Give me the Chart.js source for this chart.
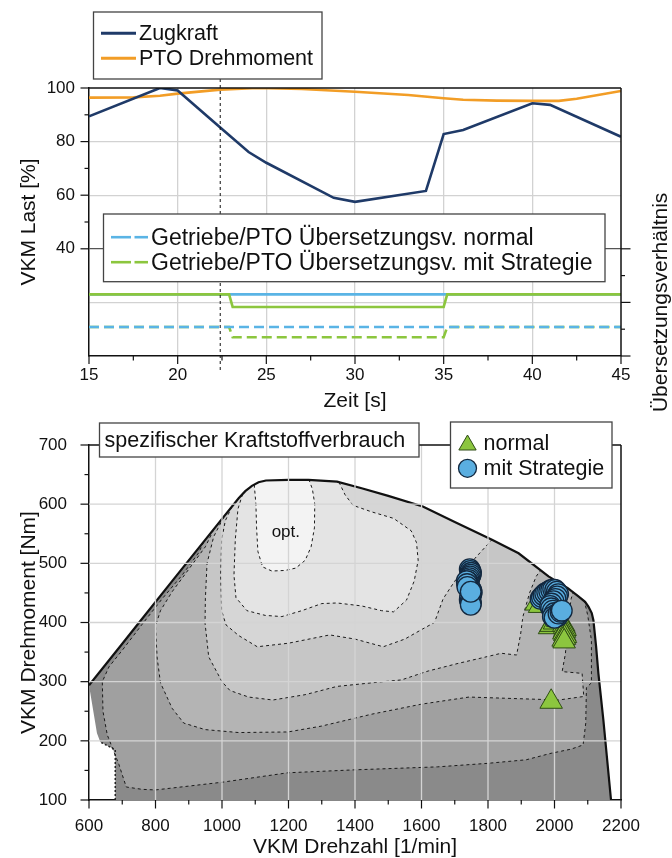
<!DOCTYPE html>
<html>
<head>
<meta charset="utf-8">
<script src="https://cdn.jsdelivr.net/npm/chart.js@4/dist/chart.umd.min.js"></script>
<style>
  html, body { margin: 0; padding: 0; background: #fff; }
  #wrap { position: relative; width: 672px; height: 858px; }
  canvas { position: absolute; left: 0; }
  #zeitChart { top: 0; }
  #kennfeldChart { top: 415px; }
</style>
</head>
<body>
<div id="wrap">
  <canvas id="zeitChart" width="672" height="415"></canvas>
  <canvas id="kennfeldChart" width="672" height="443"></canvas>
</div>
<script>
// --- Daten oben: Lastverlauf über der Zeit ---
const zugkraftZeit = [15, 19, 20, 22.4, 24, 25, 28.8, 30, 34, 35, 36.1, 40, 41, 45];
const zugkraftLast = [89.4, 100, 99.1, 85.3, 76.1, 72.1, 59, 57.5, 61.6, 82.8, 84.3, 94.3, 93.7, 81.8];
const ptoZeit = [15, 17.5, 19, 20, 22.4, 24.5, 27, 30, 33, 35, 36.1, 38, 40, 41.5, 42.5, 45];
const ptoLast = [96.4, 96.5, 97.1, 97.9, 99.4, 100, 99.6, 98.6, 97.4, 96.2, 95.6, 95.3, 95.2, 95.2, 96.0, 98.9];

// Übersetzungsverhältnisse (in Einheiten der linken Achse aufgetragen)
const uebZeit = [15, 22.9, 23.1, 35, 35.2, 45];
const getriebeNormal = [23, 23, 23, 23, 23, 23];
const getriebeStrategie = [23, 23, 18.3, 18.3, 23, 23];
const ptoUebNormal = [10.8, 10.8, 10.8, 10.8, 10.8, 10.8];
const ptoUebStrategie = [10.8, 10.8, 7, 7, 10.8, 10.8];
const markZeit = 22.4;

// --- Daten unten: Verbrauchskennfeld ---
const kennfeldVolllast = [[600,294],[700,364],[755,403],[850,470],[950,540],[1050,610],[1070,622],[1090,631],[1110,637],[1132,640],[1200,641],[1260,641],[1346,638],[1420,627],[1500,614],[1604,596],[1700,570],[1812,540],[1892,517],[1982,478],[2040,458],[2072,444],[2092,435],[2102,427],[2112,416],[2117,404],[2125,360],[2132,314],[2147,235],[2170,100]];
const kennfeldSockel = [[2170,100],[679,100],[679,185],[634,198],[624,213],[600,294]];
const kennfeldKerbe = [[679,100],[679,185],[634,198]];

const linie6 = [[945,536],[930,518],[880,480],[820,440],[760,397],[700,353],[660,325],[640,300],[642,250],[655,210],[690,160],[712,122],[760,118],[800,117],[1000,130],[1198,146],[1400,151],[1648,156],[1800,162],[1915,168],[1990,179],[2050,186],[2086,193],[2094,230],[2096,290],[2111,298],[2111,370],[2100,412],[2090,436]];
const linie5 = [[975,557],[950,528],[900,490],[850,452],[815,420],[800,394],[805,340],[815,298],[850,255],[885,230],[949,219],[1050,214],[1198,215],[1300,225],[1450,245],[1600,262],[1743,274],[1850,272],[1960,270],[2013,269],[2088,275],[2083,314],[2023,317],[2033,348],[2040,400],[2050,440],[2056,451]];
const linie4 = [[1005,578],[975,545],[955,500],[950,440],[949,399],[960,342],[1000,300],[1024,285],[1080,274],[1153,269],[1250,278],[1346,292],[1450,298],[1540,303],[1620,318],[1711,331],[1780,340],[1840,348],[1886,345],[1898,380],[1905,410],[1925,450],[1945,478],[1958,488]];
const linie3 = [[1030,596],[1010,572],[999,540],[996,480],[999,420],[1012,396],[1050,378],[1106,359],[1200,365],[1324,379],[1400,372],[1485,359],[1550,372],[1600,388],[1639,400],[1665,440],[1700,470],[1760,508],[1812,540]];
const linie2 = [[1062,617],[1048,592],[1040,540],[1036,480],[1042,442],[1075,420],[1130,412],[1180,410],[1240,420],[1300,432],[1346,433],[1420,428],[1480,420],[1516,418],[1555,438],[1578,470],[1590,505],[1585,535],[1569,555],[1516,576],[1450,587],[1394,598],[1370,616],[1352,637]];
const linieOpt = [[1097,633],[1102,600],[1104,560],[1108,520],[1122,494],[1150,487],[1190,488],[1222,492],[1250,505],[1268,528],[1278,560],[1279,600],[1272,625],[1262,641]];

// Betriebspunkte
const normalDrehzahl = [1945, 1955, 1985, 1990, 2000, 2010, 2028, 2030, 2032, 2030, 2028, 2031, 2033, 2030, 2026, 2029, 1990];
const normalMoment   = [432, 428, 392, 396, 400, 404, 396, 392, 389, 386, 383, 380, 377, 374, 371, 368, 266];
const strategieDrehzahl = [1745, 1747, 1749, 1748, 1746, 1744, 1742, 1740, 1739, 1741, 1744, 1747, 1750, 1751, 1750, 1748, 1746, 1745, 1747, 1749, 1748, 1736, 1737, 1738, 1748,
                           1958, 1962, 1967, 1972, 1978, 1984, 1990, 1996, 2002, 2007, 2011, 2008, 2003, 1997, 1991, 1987, 1990, 1995, 2000, 2005, 2010, 1995, 2000, 2012, 2018, 2022];
const strategieMoment   = [490, 487, 484, 481, 478, 475, 472, 469, 466, 463, 460, 457, 454, 451, 448, 445, 442, 439, 436, 433, 430, 470, 465, 460, 452,
                           440, 443, 446, 449, 451, 453, 455, 456, 455, 452, 448, 444, 440, 436, 432, 428, 424, 420, 416, 413, 411, 410, 408, 415, 418, 420];

// Graustufen von außen nach innen
const kennfeldGrau = ['#8a8a8a', '#a0a0a0', '#b4b4b4', '#c6c6c6', '#d6d6d6', '#e4e4e4', '#f3f3f3'];

const FONT = '"Liberation Sans", Arial, Helvetica, sans-serif';
Chart.defaults.font.family = FONT;
Chart.defaults.color = '#111';

function punkte(xs, ys) { return xs.map((x, i) => ({ x, y: ys[i] })); }
function paare(arr) { return arr.map(([x, y]) => ({ x, y })); }
function flaeche(linie) {
    const xl = linie[0][0], xr = linie[linie.length - 1][0];
    const rueck = kennfeldVolllast.filter(p => p[0] > xl && p[0] < xr).reverse();
    return paare(linie.concat(rueck));
}
function strecke(ctx, x1, y1, x2, y2) {
    ctx.beginPath(); ctx.moveTo(x1, y1); ctx.lineTo(x2, y2); ctx.stroke();
}
function legendenBox(ctx, x, y, w, h) {
    ctx.fillStyle = '#fff';
    ctx.fillRect(x, y, w, h);
    ctx.strokeStyle = '#444';
    ctx.lineWidth = 1.3;
    ctx.strokeRect(x, y, w, h);
}

// ================= oberes Diagramm =================
const zeitDeko = {
    id: 'zeitDeko',
    afterDraw(chart) {
        const { ctx, chartArea: a, scales: { x, y } } = chart;
        ctx.save();
        ctx.strokeStyle = '#111';
        ctx.lineWidth = 1.5;
        strecke(ctx, a.left, a.top, a.right, a.top);
        strecke(ctx, a.right, a.top, a.right, a.bottom);

        ctx.lineWidth = 1.2;
        for (let v = 15; v <= 45; v += 2.5) {
            const px = x.getPixelForValue(v);
            strecke(ctx, px, a.bottom, px, a.bottom + (v % 5 === 0 ? 8 : 4.5));
        }
        for (let v = 40; v <= 100; v += 10) {
            const py = y.getPixelForValue(v);
            strecke(ctx, a.left - (v % 20 === 0 ? 8.5 : 4.5), py, a.left, py);
        }
        // rechte Achse (Übersetzungsverhältnis)
        for (let v = 0; v <= 40; v += 10) {
            const py = y.getPixelForValue(v);
            strecke(ctx, a.right, py, a.right + (v % 20 === 0 ? 9.5 : 4), py);
        }

        // Markierung
        ctx.setLineDash([3, 3]);
        ctx.lineWidth = 1;
        const mx = x.getPixelForValue(markZeit);
        strecke(ctx, mx, 79, mx, a.bottom + 15);
        ctx.setLineDash([]);

        // Legende Last
        legendenBox(ctx, 93.5, 12, 228.5, 67);
        ctx.font = '21.5px ' + FONT;
        ctx.textBaseline = 'middle';
        ctx.lineWidth = 3;
        [['Zugkraft', '#1f3a68', 33.3], ['PTO Drehmoment', '#f29d26', 58.3]].forEach(([t, c, ly]) => {
            ctx.strokeStyle = c;
            strecke(ctx, 101, ly, 136, ly);
            ctx.fillStyle = '#111';
            ctx.fillText(t, 139, ly + 1);
        });

        // Legende Übersetzung
        legendenBox(ctx, 103.5, 214, 501.5, 67.7);
        ctx.font = '23px ' + FONT;
        ctx.lineWidth = 2.6;
        [['Getriebe/PTO Übersetzungsv. normal', '#5ab4e5', 237.2], ['Getriebe/PTO Übersetzungsv. mit Strategie', '#8cc63e', 262.2]].forEach(([t, c, ly]) => {
            ctx.strokeStyle = c;
            strecke(ctx, 111, ly, 131, ly);
            strecke(ctx, 134.5, ly, 148, ly);
            ctx.fillStyle = '#111';
            ctx.fillText(t, 151, ly + 1);
        });

        // rechter Achsentitel
        ctx.translate(661, y.getPixelForValue(20));
        ctx.rotate(-Math.PI / 2);
        ctx.textAlign = 'center';
        ctx.font = '21px ' + FONT;
        ctx.fillStyle = '#111';
        ctx.fillText('Übersetzungsverhältnis', 0, 0);
        ctx.restore();
    }
};

new Chart(document.getElementById('zeitChart'), {
    type: 'line',
    data: {
        datasets: [
            { data: punkte(uebZeit, getriebeNormal), borderColor: '#5ab4e5', order: 6 },
            { data: punkte(uebZeit, getriebeStrategie), borderColor: '#8cc63e', order: 5 },
            { data: punkte(uebZeit, ptoUebStrategie), borderColor: '#8cc63e', borderDash: [10, 5], order: 4 },
            { data: punkte(uebZeit, ptoUebNormal), borderColor: '#5ab4e5', borderDash: [10, 5], order: 3 },
            { data: punkte(ptoZeit, ptoLast), borderColor: '#f29d26', order: 2 },
            { data: punkte(zugkraftZeit, zugkraftLast), borderColor: '#1f3a68', order: 1 }
        ]
    },
    options: {
        responsive: false,
        animation: false,
        devicePixelRatio: 1,
        layout: { padding: { left: 0, right: 51, top: 88, bottom: 0 } },
        plugins: { legend: { display: false }, tooltip: { enabled: false } },
        elements: { point: { radius: 0 }, line: { tension: 0, borderWidth: 2.6, fill: false } },
        scales: {
            x: {
                type: 'linear', min: 15, max: 45,
                ticks: { stepSize: 5, padding: 9, autoSkip: false, maxRotation: 0, font: { size: 17 }, color: '#111', callback: v => String(v) },
                grid: {
                    drawTicks: false, lineWidth: 1.3,
                    color: c => (c.tick && c.tick.value > 15 && c.tick.value < 45) ? '#d2d2d2' : 'rgba(0,0,0,0)'
                },
                border: { color: '#111', width: 1.5 },
                title: { display: true, text: 'Zeit [s]', color: '#111', font: { size: 21, lineHeight: 1 }, padding: { top: 0, bottom: 3 } },
                afterFit: s => { s.height = 59; }
            },
            y: {
                min: 0, max: 100,
                ticks: { stepSize: 20, padding: 14, font: { size: 17 }, color: '#111', callback: v => (v >= 40 ? String(v) : '') },
                grid: {
                    drawTicks: false, lineWidth: 1.3,
                    color: c => {
                        const v = c.tick ? c.tick.value : 0;
                        if (v === 40) return '#555';
                        if (v === 20 || v === 60 || v === 80) return '#d2d2d2';
                        return 'rgba(0,0,0,0)';
                    }
                },
                border: { color: '#111', width: 1.5 },
                title: { display: true, text: 'VKM Last [%]', color: '#111', font: { size: 21, lineHeight: 1 }, padding: { top: 18.5, bottom: 0 } },
                afterFit: s => { s.width = 89; }
            }
        }
    },
    plugins: [zeitDeko]
});

// ================= unteres Diagramm =================
const flaechen = [
    paare(kennfeldVolllast.concat(kennfeldSockel)),
    flaeche(linie6), flaeche(linie5), flaeche(linie4), flaeche(linie3), flaeche(linie2), flaeche(linieOpt)
];
const isolinien = [linie6, linie5, linie4, linie3, linie2, linieOpt];

const datasets = [];
flaechen.forEach((f, i) => datasets.push({
    data: f, fill: 'shape', backgroundColor: kennfeldGrau[i], borderColor: 'rgba(0,0,0,0)', borderWidth: 0
}));
isolinien.forEach(l => datasets.push({
    data: paare(l), borderColor: '#1a1a1a', borderWidth: 1, borderDash: [3, 3]
}));
datasets.push({ data: paare(kennfeldKerbe), borderColor: '#222', borderWidth: 1.5, borderDash: [2, 2] });
datasets.push({ data: paare(kennfeldVolllast), borderColor: '#111', borderWidth: 2.2 });
const gitterIndex = datasets.length;
datasets.push({
    data: punkte(normalDrehzahl, normalMoment), showLine: false,
    pointStyle: 'triangle', pointRadius: 13, backgroundColor: '#8cc63f', borderColor: '#2f4d16', pointBorderWidth: 1
});
datasets.push({
    data: punkte(strategieDrehzahl, strategieMoment), showLine: false,
    pointStyle: 'circle', pointRadius: 10.3, backgroundColor: '#5aaee0', borderColor: '#13283f', pointBorderWidth: 1.3
});
datasets.forEach((d, i) => { d.order = 100 - i; });

const kennfeldDeko = {
    id: 'kennfeldDeko',
    beforeDatasetDraw(chart, args) {
        if (args.index !== gitterIndex) return;
        const { ctx, chartArea: a, scales: { x, y } } = chart;
        ctx.save();
        ctx.strokeStyle = '#d4d4d4';
        ctx.lineWidth = 1.3;
        for (let v = 800; v <= 2000; v += 200) {
            const px = x.getPixelForValue(v);
            strecke(ctx, px, a.top, px, a.bottom);
        }
        for (let v = 200; v <= 600; v += 100) {
            const py = y.getPixelForValue(v);
            strecke(ctx, a.left, py, a.right, py);
        }
        ctx.restore();
    },
    afterDatasetsDraw(chart) {
        const { ctx, scales: { x, y } } = chart;
        ctx.save();
        ctx.font = '17px ' + FONT;
        ctx.fillStyle = '#111';
        ctx.textAlign = 'center';
        ctx.textBaseline = 'middle';
        ctx.fillText('opt.', x.getPixelForValue(1192), y.getPixelForValue(553));
        ctx.restore();
    },
    afterDraw(chart) {
        const { ctx, chartArea: a, scales: { x, y } } = chart;
        ctx.save();
        ctx.strokeStyle = '#111';
        ctx.lineWidth = 1.5;
        strecke(ctx, a.left, a.top, a.right, a.top);
        strecke(ctx, a.right, a.top, a.right, a.bottom);
        ctx.lineWidth = 1.2;
        for (let v = 600; v <= 2200; v += 100) {
            const px = x.getPixelForValue(v);
            strecke(ctx, px, a.bottom, px, a.bottom + (v % 200 === 0 ? 8.5 : 4.5));
        }
        for (let v = 100; v <= 700; v += 50) {
            const py = y.getPixelForValue(v);
            strecke(ctx, a.left - (v % 100 === 0 ? 8.5 : 4.5), py, a.left, py);
        }

        // Titelbox
        legendenBox(ctx, 99.5, 8, 319.5, 34);
        ctx.font = '21.5px ' + FONT;
        ctx.fillStyle = '#111';
        ctx.textBaseline = 'middle';
        ctx.fillText('spezifischer Kraftstoffverbrauch', 104.5, 26);

        // Legende Betriebspunkte
        legendenBox(ctx, 450.5, 7, 161.5, 66);
        ctx.fillStyle = '#8cc63f';
        ctx.strokeStyle = '#2f4d16';
        ctx.lineWidth = 1;
        Chart.helpers.drawPoint(ctx, { pointStyle: 'triangle', radius: 10, rotation: 0, borderWidth: 1 }, 467.5, 30);
        ctx.fillStyle = '#5aaee0';
        ctx.strokeStyle = '#13283f';
        ctx.lineWidth = 1.3;
        Chart.helpers.drawPoint(ctx, { pointStyle: 'circle', radius: 9, rotation: 0, borderWidth: 1.3 }, 467.5, 53.3);
        ctx.fillStyle = '#111';
        ctx.fillText('normal', 483.5, 29);
        ctx.fillText('mit Strategie', 483.5, 54);
        ctx.restore();
    }
};

new Chart(document.getElementById('kennfeldChart'), {
    type: 'line',
    data: { datasets },
    options: {
        responsive: false,
        animation: false,
        devicePixelRatio: 1,
        layout: { padding: { left: 0, right: 51, top: 30, bottom: 0 } },
        plugins: { legend: { display: false }, tooltip: { enabled: false } },
        elements: { point: { radius: 0 }, line: { tension: 0, fill: false } },
        scales: {
            x: {
                type: 'linear', min: 600, max: 2200,
                ticks: { stepSize: 200, padding: 8, autoSkip: false, maxRotation: 0, font: { size: 17 }, color: '#111', callback: v => String(v) },
                grid: { display: false },
                border: { color: '#111', width: 1.5 },
                title: { display: true, text: 'VKM Drehzahl [1/min]', color: '#111', font: { size: 21, lineHeight: 1 }, padding: { top: 0, bottom: 0 } },
                afterFit: s => { s.height = 58; }
            },
            y: {
                min: 100, max: 700,
                ticks: { stepSize: 100, padding: 14, font: { size: 17 }, color: '#111', callback: v => String(v) },
                grid: { display: false },
                border: { color: '#111', width: 1.5 },
                title: { display: true, text: 'VKM Drehmoment [Nm]', color: '#111', font: { size: 21, lineHeight: 1 }, padding: { top: 18.5, bottom: 0 } },
                afterFit: s => { s.width = 89; }
            }
        }
    },
    plugins: [kennfeldDeko]
});
</script>
</body>
</html>
